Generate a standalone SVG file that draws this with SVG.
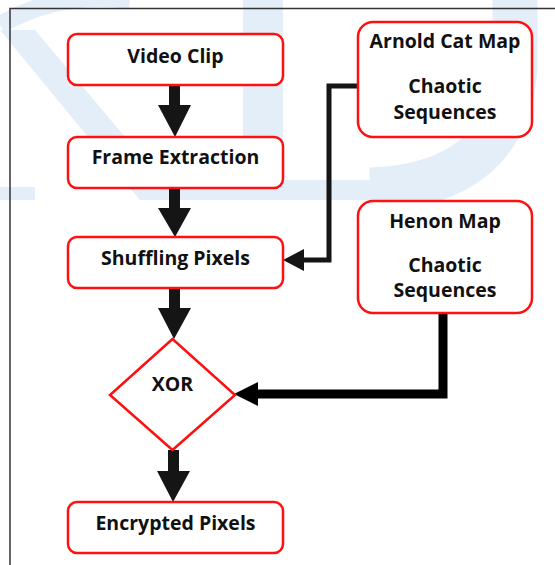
<svg xmlns="http://www.w3.org/2000/svg" width="555" height="565" viewBox="0 0 555 565">
<style>
.box{fill:#ffffff;stroke:#ff1010;stroke-width:2.5}
.t{font-family:"Open Sans","Noto Sans","DejaVu Sans",sans-serif;font-weight:bold;font-size:19.5px;fill:#111111;text-anchor:middle}
.blk{fill:#151515}
.wm{fill:#e4eef8}
</style>
<rect x="0" y="0" width="555" height="565" fill="#ffffff"/>
<g id="watermark">
<path class="wm" d="M0 30 L35 30 L178 200 L140 200 Z"/>
<rect class="wm" x="0" y="187" width="35" height="13"/>
<rect class="wm" x="243" y="0" width="40" height="180"/>
<rect class="wm" x="140" y="180" width="240" height="20"/>
<path d="M515 0 L515 70 Q505 185 370 190" fill="none" stroke="#e4eef8" stroke-width="45"/>
<path d="M0 25 Q60 -10 130 0" fill="none" stroke="#e4eef8" stroke-width="18"/>
</g>
<g id="frame" stroke="#333" stroke-width="1.5" fill="none">
<path d="M10 565 L10 8.5 L555 8.5"/>
</g>
<g id="connectors">
<path class="blk" d="M169 85 L180 85 L180 105 L191 105 L175 137 L158 105 L169 105 Z"/>
<path class="blk" d="M169 188 L180 188 L180 208 L191 208 L175 237 L158 208 L169 208 Z"/>
<path class="blk" d="M169 287 L180 287 L180 308 L191 308 L174 339 L158 308 L169 308 Z"/>
<path class="blk" d="M168 450 L179 450 L179 471 L190 471 L173 502 L157 471 L168 471 Z"/>
<polyline points="358,86 329,86 329,260 300,260" fill="none" stroke="#151515" stroke-width="5"/>
<path class="blk" d="M283 260 L304 249 L304 271 Z"/>
<polyline points="443,313 443,394 255,394" fill="none" stroke="#000" stroke-width="9"/>
<path fill="#000" d="M234 394 L258 382 L258 406 Z"/>
</g>
<g id="video-clip">
<rect class="box" x="68" y="34" width="215" height="51" rx="9"/>
<text class="t" x="175.5" y="63">Video Clip</text>
</g>
<g id="frame-extraction">
<rect class="box" x="68" y="137" width="215" height="51" rx="9"/>
<text class="t" x="175.5" y="164">Frame Extraction</text>
</g>
<g id="shuffling-pixels">
<rect class="box" x="68" y="237" width="215" height="51" rx="9"/>
<text class="t" x="175.5" y="265">Shuffling Pixels</text>
</g>
<g id="xor">
<polygon class="box" points="172.5,339 235,395 172.5,450 110,395"/>
<text class="t" x="172.5" y="391">XOR</text>
</g>
<g id="encrypted-pixels">
<rect class="box" x="68" y="502" width="215" height="51" rx="9"/>
<text class="t" x="175.5" y="530">Encrypted Pixels</text>
</g>
<g id="arnold-cat-map">
<rect class="box" x="358" y="22" width="174" height="115" rx="15"/>
<text class="t" x="445" y="48">Arnold Cat Map</text>
<text class="t" x="445" y="93">Chaotic</text>
<text class="t" x="445" y="119">Sequences</text>
</g>
<g id="henon-map">
<rect class="box" x="358" y="201" width="174" height="112" rx="15"/>
<text class="t" x="445" y="228">Henon Map</text>
<text class="t" x="445" y="272">Chaotic</text>
<text class="t" x="445" y="297">Sequences</text>
</g>
</svg>
